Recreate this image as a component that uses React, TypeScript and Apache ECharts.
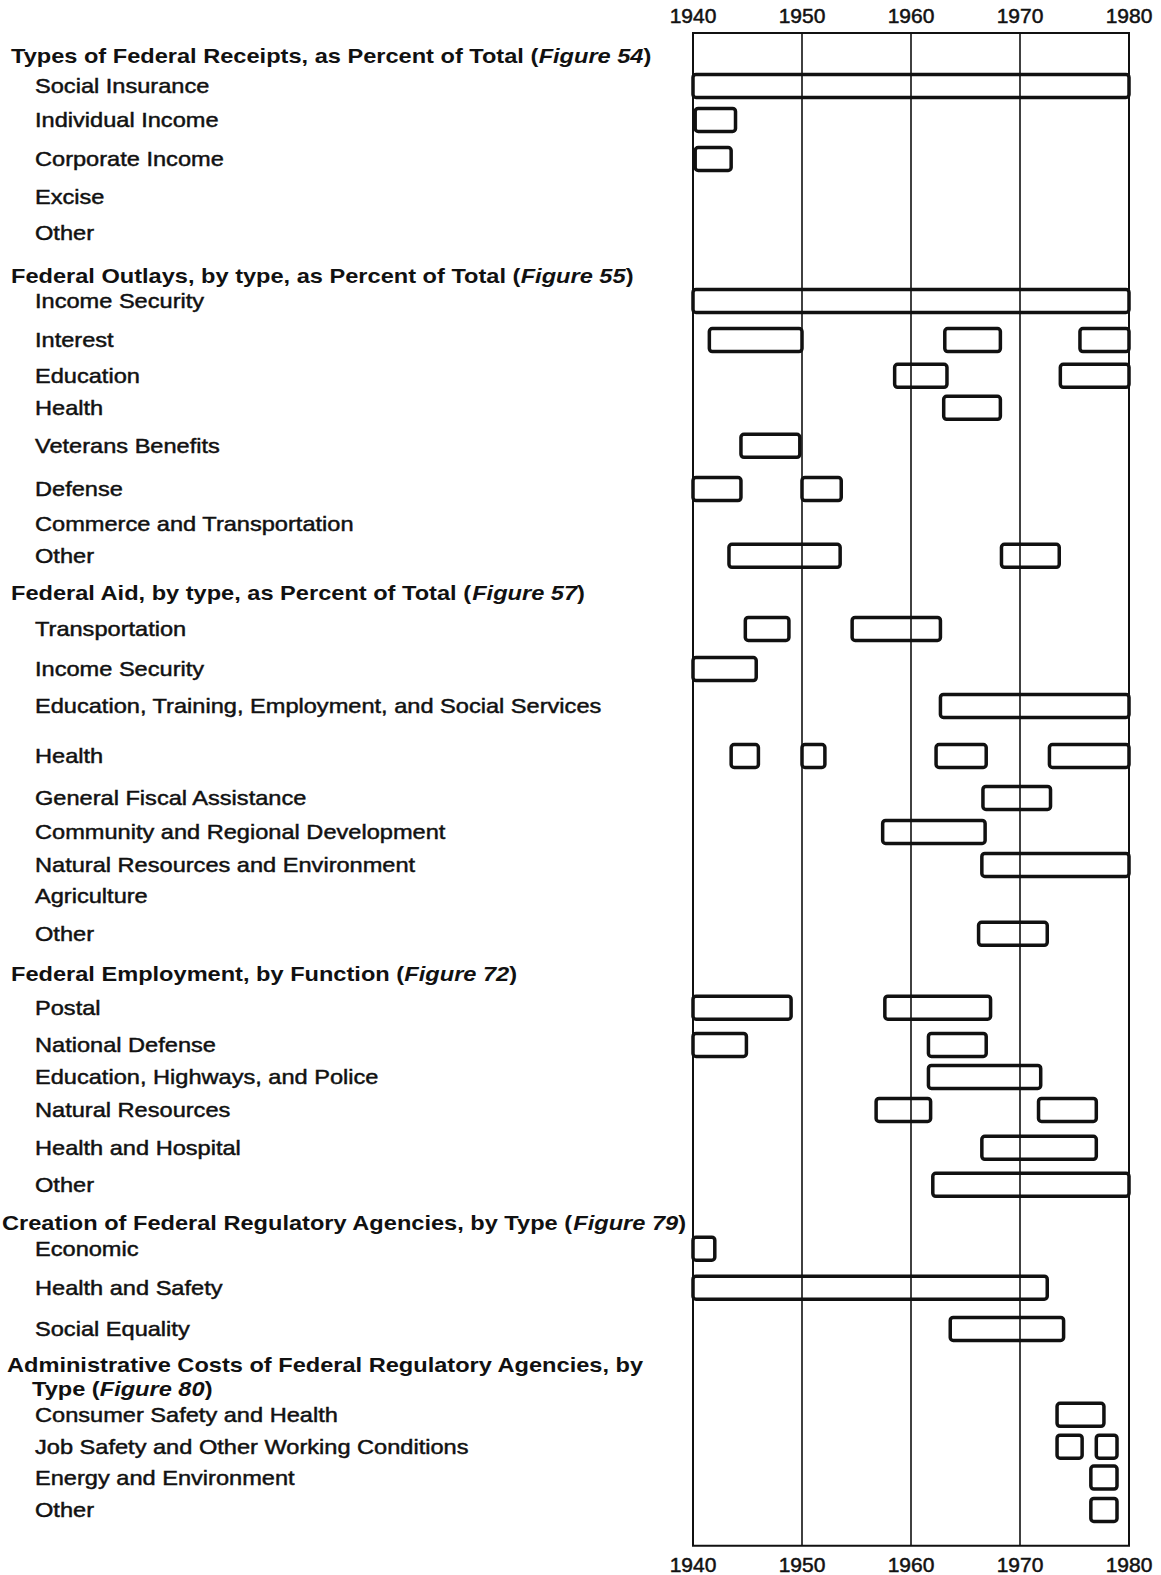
import React, { useEffect, useRef } from "react";
import * as echarts from "echarts";

// ---- data -----------------------------------------------------------------
const yearMin = 1940;
const yearMax = 1980;
const yearStep = 10;

// every printed line on the left (h = section header, c = header continuation, i = item)
const rowLabels: string[] = [
  "Types of Federal Receipts, as Percent of Total (Figure 54)",
  "Social Insurance",
  "Individual Income",
  "Corporate Income",
  "Excise",
  "Other",
  "Federal Outlays, by type, as Percent of Total (Figure 55)",
  "Income Security",
  "Interest",
  "Education",
  "Health",
  "Veterans Benefits",
  "Defense",
  "Commerce and Transportation",
  "Other",
  "Federal Aid, by type, as Percent of Total (Figure 57)",
  "Transportation",
  "Income Security",
  "Education, Training, Employment, and Social Services",
  "Health",
  "General Fiscal Assistance",
  "Community and Regional Development",
  "Natural Resources and Environment",
  "Agriculture",
  "Other",
  "Federal Employment, by Function (Figure 72)",
  "Postal",
  "National Defense",
  "Education, Highways, and Police",
  "Natural Resources",
  "Health and Hospital",
  "Other",
  "Creation of Federal Regulatory Agencies, by Type (Figure 79)",
  "Economic",
  "Health and Safety",
  "Social Equality",
  "Administrative Costs of Federal Regulatory Agencies, by",
  "Type (Figure 80)",
  "Consumer Safety and Health",
  "Job Safety and Other Working Conditions",
  "Energy and Environment",
  "Other",
];

const rowKinds: string[] = [
  "h", "i", "i", "i", "i", "i",
  "h", "i", "i", "i", "i", "i", "i", "i", "i",
  "h", "i", "i", "i", "i", "i", "i", "i", "i", "i",
  "h", "i", "i", "i", "i", "i", "i",
  "h", "i", "i", "i",
  "h", "c", "i", "i", "i", "i",
];

// vertical position of each printed line, in line units from the top of the frame
const rowPos: number[] = [
  0.65, 1.49, 2.45, 3.55, 4.62, 5.63,
  6.85, 7.55, 8.65, 9.66, 10.56, 11.63, 12.85, 13.83, 14.73,
  15.77, 16.79, 17.92, 18.96, 20.37, 21.55, 22.51, 23.44, 24.31, 25.38,
  26.51, 27.46, 28.51, 29.41, 30.34, 31.41, 32.45,
  33.52, 34.25, 35.35, 36.51,
  37.52, 38.2, 38.93, 39.83, 40.7, 41.61,
];
const rowAxisMax = 42.62;

// periods (bars): row index, start year, end year
const spanRow: number[] = [
  1, 2, 3,
  7, 8, 8, 8, 9, 9, 10, 11, 12, 12, 14, 14,
  16, 16, 17, 18, 19, 19, 19, 19, 20, 21, 22, 24,
  26, 26, 27, 27, 28, 29, 29, 30, 31,
  33, 34, 35,
  38, 39, 39, 40, 41,
];
const spanStart: number[] = [
  1940, 1940.2, 1940.2,
  1940, 1941.5, 1963.1, 1975.5, 1958.5, 1973.7, 1963, 1944.4, 1940, 1950, 1943.3, 1968.3,
  1944.8, 1954.6, 1940, 1962.7, 1943.5, 1950, 1962.3, 1972.7, 1966.6, 1957.4, 1966.5, 1966.2,
  1940, 1957.6, 1940, 1961.6, 1961.6, 1956.8, 1971.7, 1966.5, 1962,
  1940, 1940, 1963.6,
  1973.4, 1973.4, 1977, 1976.5, 1976.5,
];
const spanEnd: number[] = [
  1980, 1943.9, 1943.5,
  1980, 1950, 1968.2, 1980, 1963.3, 1980, 1968.2, 1949.8, 1944.4, 1953.6, 1953.5, 1973.6,
  1948.8, 1962.7, 1945.8, 1980, 1946, 1952.1, 1966.9, 1980, 1972.8, 1966.8, 1980, 1972.5,
  1949, 1967.3, 1944.9, 1966.9, 1971.9, 1961.8, 1977, 1977, 1980,
  1942, 1972.5, 1974,
  1977.7, 1975.7, 1978.9, 1978.9, 1978.9,
];

// ---- component ------------------------------------------------------------
const FONT = "'Liberation Sans', Arial, Helvetica, sans-serif";
const INK = "#111111";
const TEXT_SIZE = 20;
const TEXT_STRETCH = 1.18;

function formatLabel(i: number): string {
  const text = rowLabels[i];
  const kind = rowKinds[i];
  if (kind === "i") return `{r|${text}}`;
  const m = text.match(/^(.*\()(Figure \d+)(\).*)$/);
  if (m) return `{b|${m[1]}}{bi|${m[2]}}{b|${m[3]}}`;
  return `{b|${text}}`;
}

function indentFor(i: number): number {
  const k = rowKinds[i];
  if (k === "h") return i === 32 ? 2 : i === 36 ? 7 : 11;
  if (k === "c") return 32;
  return 35;
}

export default function App() {
  const ref = useRef<HTMLDivElement>(null);

  useEffect(() => {
    if (!ref.current) return;
    const chart = echarts.init(ref.current, undefined, { renderer: "svg" });

    const barData = spanRow.map((r, k) => [rowPos[r], spanStart[k], spanEnd[k]]);
    const labelData = rowLabels.map((_, i) => [indentFor(i), rowPos[i], i]);

    const yearAxisCommon = {
      type: "value",
      gridIndex: 0,
      min: yearMin,
      max: yearMax,
      interval: yearStep,
      axisLine: { show: false },
      axisTick: { show: false },
    };

    const yearLabelStyle = {
      color: INK,
      fontFamily: FONT,
      fontSize: 21,
      textBorderColor: INK,
      textBorderWidth: 0.5,
      formatter: (v: number) => String(v),
    };

    const rich = {
      r: { fontFamily: FONT, fontSize: TEXT_SIZE, fill: INK, stroke: INK, lineWidth: 0.45 },
      b: { fontFamily: FONT, fontSize: TEXT_SIZE, fontWeight: "bold", fill: INK },
      bi: {
        fontFamily: FONT,
        fontSize: TEXT_SIZE,
        fontWeight: "bold",
        fontStyle: "italic",
        fill: INK,
      },
    };

    chart.setOption({
      animation: false,
      backgroundColor: "#ffffff",
      grid: [
        {
          left: 693,
          right: 32,
          top: 33,
          bottom: 29,
          show: true,
          borderColor: INK,
          borderWidth: 2,
          backgroundColor: "transparent",
        },
        { left: 0, top: 33, width: 690, bottom: 29, show: false },
      ],
      xAxis: [
        {
          ...yearAxisCommon,
          position: "bottom",
          axisLabel: { ...yearLabelStyle, margin: 8 },
          splitLine: { show: true, lineStyle: { color: INK, width: 1.6 } },
        },
        {
          ...yearAxisCommon,
          position: "top",
          axisLabel: { ...yearLabelStyle, margin: 7 },
          splitLine: { show: false },
        },
        { type: "value", gridIndex: 1, min: 0, max: 690, show: false },
      ],
      yAxis: [
        { type: "value", gridIndex: 0, inverse: true, min: 0, max: rowAxisMax, show: false },
        { type: "value", gridIndex: 1, inverse: true, min: 0, max: rowAxisMax, show: false },
      ],
      series: [
        {
          type: "custom",
          xAxisIndex: 0,
          yAxisIndex: 0,
          data: barData,
          encode: { x: [1, 2], y: 0 },
          renderItem: (params: any, api: any) => {
            const y = api.value(0);
            const p0 = api.coord([api.value(1), y]);
            const p1 = api.coord([api.value(2), y]);
            const h = 23;
            return {
              type: "rect",
              shape: { x: p0[0], y: p0[1] - h / 2, width: p1[0] - p0[0], height: h, r: 3 },
              style: { fill: "none", stroke: INK, lineWidth: 3.5 },
            };
          },
        },
        {
          type: "custom",
          xAxisIndex: 2,
          yAxisIndex: 1,
          data: labelData,
          encode: { x: 0, y: 1 },
          clip: false,
          renderItem: (params: any, api: any) => {
            const idx = api.value(2);
            const p = api.coord([api.value(0), api.value(1)]);
            return {
              type: "text",
              x: p[0],
              y: p[1],
              scaleX: TEXT_STRETCH,
              style: {
                text: formatLabel(idx),
                rich,
                fill: INK,
                fontFamily: FONT,
                fontSize: TEXT_SIZE,
                align: "left",
                verticalAlign: "middle",
              },
            };
          },
        },
      ],
    });

    return () => chart.dispose();
  }, []);

  return (
    <div
      ref={ref}
      style={{ position: "absolute", left: 0, top: 0, width: 1161, height: 1575, background: "#fff" }}
    />
  );
}
